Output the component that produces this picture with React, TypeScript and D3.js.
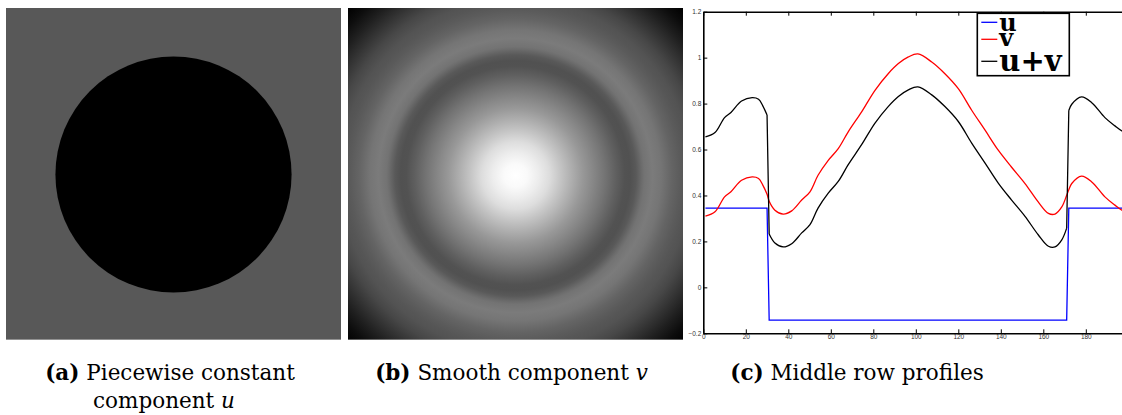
import { useEffect, useRef } from "react";
import * as d3 from "d3";

const W = 1122;
const H = 415;

// middle row of the decomposition, pixel index along the row
const rowX = [
  1, 5.5, 10, 13, 18, 23, 26, 28, 30, 31, 33.7, 37.6, 41.6, 46.3, 50.2, 54,
  58.8, 63.5, 68.2, 74.5, 80.8, 87, 91.8, 96.5, 101, 107.5, 113.7, 120, 126.3,
  132.6, 138.8, 145, 151.4, 157.6, 162.4, 165.5, 168.7, 171, 172, 173.4, 178,
  182.8, 189, 193.7, 197, 200,
];
// smooth component v along that row
const vRow = [
  0.31, 0.329, 0.394, 0.416, 0.466, 0.481, 0.474, 0.445, 0.405, 0.375, 0.336,
  0.319, 0.333, 0.38, 0.416, 0.488, 0.553, 0.604, 0.677, 0.764, 0.858, 0.93,
  0.974, 1.003, 1.016, 0.981, 0.93, 0.865, 0.771, 0.684, 0.597, 0.524, 0.452,
  0.372, 0.322, 0.319, 0.35, 0.401, 0.425, 0.452, 0.484, 0.459, 0.394, 0.358,
  0.336, 0.325,
];
// piecewise constant component u: two levels and the disc edges
const uLevels = [0.345, -0.143];
const uEdges = [30.5, 171.5];
const uX = [1, 30, 31, 171, 172, 200];
const uVal = [0.345, 0.345, -0.143, -0.143, 0.345, 0.345];

// v beyond the row ends (towards the image corners), radius in pixels
const outerR = [105, 112, 119, 126, 133];
const outerV = [0.28, 0.2, 0.12, 0.05, 0];

const discRadius = 70.5;
const imgCenter = 100;

const xTicks = [0, 20, 40, 60, 80, 100, 120, 140, 160, 180];
const yTicks = [-0.2, 0, 0.2, 0.4, 0.6, 0.8, 1, 1.2];

const series = [
  { label: "u", color: "#0000ff" },
  { label: "v", color: "#ff0000" },
  { label: "u+v", color: "#000000" },
];

type Pt = [number, number];

export default function App() {
  const ref = useRef<SVGGElement>(null);

  useEffect(() => {
    const svg = d3.select(ref.current);
    svg.selectAll("*").remove();

    const gray = d3
      .scaleLinear<string>()
      .domain([0, 1])
      .range(["#000000", "#ffffff"])
      .clamp(true);
    const img = d3.scaleLinear().domain([0, 200]).range([0, 335]);
    // the smooth image reads a bit wider than the row profile
    const imgV = d3.scaleLinear().domain([0, 200]).range([0, 356]);
    const uStep = d3
      .scaleThreshold<number, number>()
      .domain(uEdges)
      .range([uLevels[0], uLevels[1], uLevels[0]]);

    const defs = svg.append("defs");

    // (a) piecewise constant image
    const ga = svg.append("g").attr("transform", "translate(6,8)");
    ga.append("rect")
      .attr("width", img(200))
      .attr("height", img(198))
      .attr("fill", gray(uLevels[0]));
    ga.append("circle")
      .attr("cx", img(imgCenter))
      .attr("cy", img(imgCenter) - 1)
      .attr("r", img(discRadius))
      .attr("fill", gray(uLevels[1]));

    // (b) smooth image, radial profile from the row data
    const stops = rowX
      .map((x, i) => ({ r: x - 101, v: vRow[i] }))
      .filter((d) => d.r >= 0)
      .concat(outerR.map((r, i) => ({ r, v: outerV[i] })));
    const rMax = outerR[outerR.length - 1];
    const grad = defs
      .append("radialGradient")
      .attr("id", "vGrad")
      .attr("gradientUnits", "userSpaceOnUse")
      .attr("cx", img(imgCenter))
      .attr("cy", img(imgCenter))
      .attr("r", imgV(rMax));
    grad
      .selectAll("stop")
      .data(stops)
      .join("stop")
      .attr("offset", (d) => d.r / rMax)
      .attr("stop-color", (d) => gray(d.v));
    const gb = svg.append("g").attr("transform", "translate(348,8)");
    gb.append("rect")
      .attr("width", img(200))
      .attr("height", img(198))
      .attr("fill", "url(#vGrad)");

    // (c) profiles
    const x = d3.scaleLinear().domain([0, 200]).range([703.3, 1128.3]);
    const y = d3.scaleLinear().domain([-0.2, 1.2]).range([333.3, 11.7]);

    defs
      .append("clipPath")
      .attr("id", "plotClip")
      .append("rect")
      .attr("x", x(0))
      .attr("y", y(1.2))
      .attr("width", W - x(0))
      .attr("height", y(-0.2) - y(1.2));

    const plot = svg.append("g").attr("clip-path", "url(#plotClip)");
    const smooth = d3
      .line<Pt>()
      .x((d) => x(d[0]))
      .y((d) => y(d[1]))
      .curve(d3.curveCatmullRom.alpha(0.5));
    const straight = d3
      .line<Pt>()
      .x((d) => x(d[0]))
      .y((d) => y(d[1]));

    const uData: Pt[] = uX.map((d, i) => [d, uVal[i]]);
    const vData: Pt[] = rowX.map((d, i) => [d, vRow[i]]);
    const sumData: Pt[] = rowX.map((d, i) => [d, vRow[i] + uStep(d)]);

    // split the sum at the jumps of u so the smooth pieces don't overshoot
    const pieces: Pt[][] = [];
    sumData.forEach((p, i) => {
      if (i === 0 || uStep(rowX[i]) !== uStep(rowX[i - 1])) pieces.push([]);
      pieces[pieces.length - 1].push(p);
    });
    const sumPath =
      pieces.map((pc) => smooth(pc)).join("") +
      pieces
        .slice(1)
        .map((pc, i) => straight([pieces[i][pieces[i].length - 1], pc[0]]))
        .join("");

    plot
      .append("path")
      .attr("d", straight(uData))
      .attr("fill", "none")
      .attr("stroke", series[0].color)
      .attr("stroke-width", 1.3);
    plot
      .append("path")
      .attr("d", smooth(vData))
      .attr("fill", "none")
      .attr("stroke", series[1].color)
      .attr("stroke-width", 1.3);
    plot
      .append("path")
      .attr("d", sumPath)
      .attr("fill", "none")
      .attr("stroke", series[2].color)
      .attr("stroke-width", 1.3);

    const styleAxis = (g: d3.Selection<SVGGElement, unknown, null, undefined>) => {
      g.select(".domain").attr("stroke", "#000").attr("stroke-width", 1.6);
      g.selectAll(".tick line").attr("stroke", "#000").attr("stroke-width", 1);
      g.selectAll(".tick text")
        .attr("fill", "#333")
        .style("font-family", "'Liberation Sans', Arial, sans-serif")
        .style("font-size", "6.5px");
    };

    const axes = svg.append("g");

    axes
      .append("g")
      .attr("transform", `translate(0,${y(-0.2)})`)
      .call(
        d3
          .axisBottom(x)
          .tickValues(xTicks)
          .tickSize(-4)
          .tickSizeOuter(0)
          .tickPadding(1.5)
      )
      .call(styleAxis);
    axes
      .append("g")
      .attr("transform", `translate(0,${y(1.2)})`)
      .call(
        d3
          .axisTop(x)
          .tickValues(xTicks)
          .tickSize(-4)
          .tickSizeOuter(0)
          .tickFormat(() => "")
      )
      .call(styleAxis);
    axes
      .append("g")
      .attr("transform", `translate(${x(0)},0)`)
      .call(
        d3
          .axisLeft(y)
          .tickValues(yTicks)
          .tickSize(-4)
          .tickSizeOuter(0)
          .tickPadding(2)
          .tickFormat((d) => d3.format("")(+d))
      )
      .call(styleAxis);

    // legend
    const lg = svg.append("g").attr("transform", "translate(977.3,13.3)");
    lg.append("rect")
      .attr("width", 92)
      .attr("height", 62.4)
      .attr("fill", "#fff")
      .attr("stroke", "#000")
      .attr("stroke-width", 1.6);
    const rows = [
      { ly: 9, ty: 18, size: 24 },
      { ly: 26, ty: 33, size: 24 },
      { ly: 48, ty: 57.5, size: 29 },
    ];
    series.forEach((s, i) => {
      lg.append("line")
        .attr("x1", 4)
        .attr("x2", 20)
        .attr("y1", rows[i].ly)
        .attr("y2", rows[i].ly)
        .attr("stroke", s.color)
        .attr("stroke-width", 1.3);
      lg.append("text")
        .attr("x", 22)
        .attr("y", rows[i].ty)
        .attr("fill", "#000")
        .style("font-family", "'DejaVu Serif', serif")
        .style("font-weight", "bold")
        .style("font-size", `${rows[i].size}px`)
        .text(s.label);
    });
  }, []);

  const cap = {
    fontFamily: "'DejaVu Serif', serif",
    fontSize: 21.5,
  } as const;

  return (
    <svg
      width={W}
      height={H}
      style={{ position: "absolute", left: 0, top: 0, background: "#fff" }}
    >
      <g ref={ref} />
      <g style={cap}>
        <text x={170} y={380} textAnchor="middle">
          <tspan fontWeight="bold">(a)</tspan> Piecewise constant
        </text>
        <text x={164} y={408} textAnchor="middle">
          component <tspan fontStyle="italic">u</tspan>
        </text>
        <text x={511.5} y={380} textAnchor="middle">
          <tspan fontWeight="bold">(b)</tspan> Smooth component{" "}
          <tspan fontStyle="italic">v</tspan>
        </text>
        <text x={857} y={380} textAnchor="middle">
          <tspan fontWeight="bold">(c)</tspan> Middle row profiles
        </text>
      </g>
    </svg>
  );
}
